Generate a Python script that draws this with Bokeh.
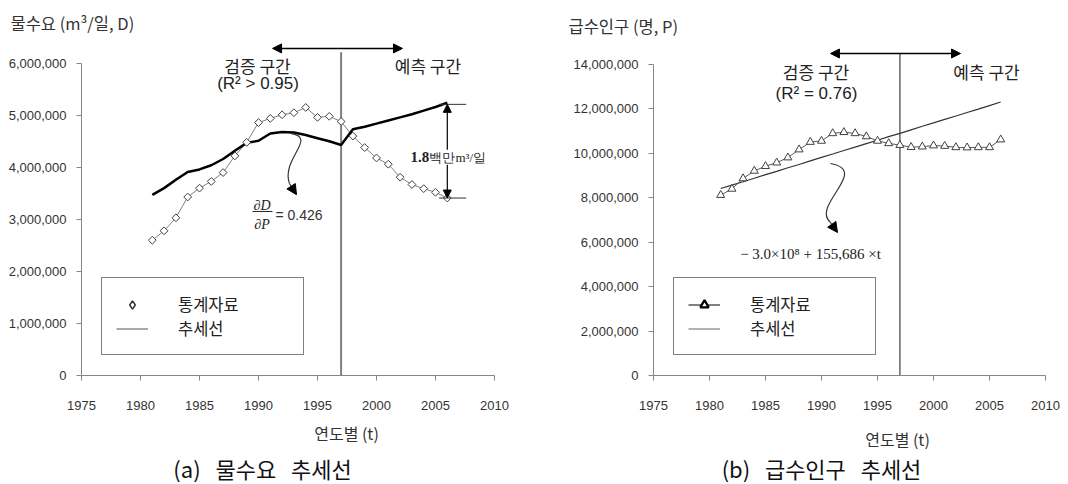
import numpy as np
from bokeh.plotting import figure
from bokeh.layouts import row, column
from bokeh.models import (Label, Arrow, NormalHead, Legend, LegendItem,
                          FixedTicker, NumeralTickFormatter)
from bokeh.embed import file_html
from bokeh.resources import INLINE

# ---------------- data ----------------
years = list(range(1981, 2007))

demand_stats = [2600000, 2780000, 3030000, 3430000, 3600000, 3730000, 3900000,
                4220000, 4480000, 4860000, 4940000, 5010000, 5050000, 5150000,
                4960000, 4980000, 4880000, 4600000, 4380000, 4180000, 4060000,
                3810000, 3670000, 3590000, 3520000, 3410000]
demand_trend = [3470000, 3600000, 3760000, 3910000, 3960000, 4040000, 4160000,
                4320000, 4470000, 4510000, 4650000, 4680000, 4670000, 4620000,
                4560000, 4500000, 4430000, 4730000, 4780000, 4840000, 4900000,
                4960000, 5020000, 5090000, 5160000, 5240000]

pop_stats = [8120000, 8400000, 8870000, 9210000, 9420000, 9580000, 9810000,
             10170000, 10510000, 10560000, 10900000, 10950000, 10900000, 10760000,
             10560000, 10450000, 10370000, 10280000, 10300000, 10350000, 10330000,
             10270000, 10260000, 10270000, 10270000, 10620000]
pop_trend = [8420000, 8570000, 8720000, 8880000, 9040000, 9190000, 9350000,
             9500000, 9660000, 9820000, 9970000, 10130000, 10280000, 10440000,
             10590000, 10750000, 10900000, 11060000, 11220000, 11370000, 11530000,
             11680000, 11840000, 11990000, 12150000, 12310000]

x_ticks = [1975, 1980, 1985, 1990, 1995, 2000, 2005, 2010]
demand_ticks = [0, 1000000, 2000000, 3000000, 4000000, 5000000, 6000000]
pop_ticks = [0, 2000000, 4000000, 6000000, 8000000, 10000000, 12000000, 14000000]
split_year = 1997

KR = "Noto Sans CJK KR"
SANS = "Liberation Sans"
SERIF = "Liberation Serif"
GAP = "\u00a0\u00a0\u00a0"


def style(p, yticks):
    p.xgrid.visible = False
    p.ygrid.visible = False
    p.outline_line_color = None
    p.background_fill_color = "white"
    p.border_fill_color = "white"
    for ax in (p.xaxis[0], p.yaxis[0]):
        ax.axis_line_color = "#868686"
        ax.axis_line_width = 1
        ax.major_tick_line_color = "#868686"
        ax.major_tick_out = 5
        ax.major_tick_in = 0
        ax.minor_tick_line_color = None
        ax.major_label_text_font = SANS
        ax.major_label_text_font_size = "13px"
        ax.major_label_text_color = "#333333"
    p.xaxis.ticker = FixedTicker(ticks=x_ticks)
    p.yaxis.ticker = FixedTicker(ticks=yticks)
    p.yaxis.formatter = NumeralTickFormatter(format="0,0")
    p.xaxis.bounds = (x_ticks[0], x_ticks[-1])
    p.yaxis.bounds = (yticks[0], yticks[-1])
    p.yaxis.major_label_standoff = 10
    p.xaxis.major_label_standoff = 20


def lab(p, x, y, text, size, font=KR, align="center", baseline="middle",
        fstyle="normal", color="#222222", bg=None):
    p.add_layout(Label(x=x, y=y, text=text,
                       text_font=font, text_font_size=size, text_align=align,
                       text_baseline=baseline, text_font_style=fstyle,
                       text_color=color, background_fill_color=bg))


def make_legend(items):
    return Legend(items=items, location=(20, 20), margin=0, padding=14,
                  spacing=0, label_standoff=30, glyph_width=32, glyph_height=21,
                  label_height=21, label_width=111,
                  border_line_color="black", border_line_width=1.5,
                  background_fill_color="white", background_fill_alpha=1,
                  label_text_font=KR, label_text_font_size="16.5px",
                  label_text_color="#222222")


def strip(height, top):
    # plain text band; its coordinates are page pixels
    s = figure(width=1068, height=height, x_range=(0, 1068), y_range=(top + height, top),
               output_backend="svg", toolbar_location=None, title=None,
               x_axis_type=None, y_axis_type=None, min_border=0)
    s.outline_line_color = None
    s.background_fill_color = "white"
    s.border_fill_color = "white"
    return s


# ---------------- (a) water demand ----------------
p1 = figure(width=540, height=380, x_range=(1975, 2010), y_range=(0, 6437000),
            output_backend="svg", toolbar_location=None, title=None,
            min_border_left=81, min_border_right=46, min_border_top=0,
            min_border_bottom=41)
style(p1, demand_ticks)

p1.segment(x0=[split_year], y0=[0], x1=[split_year], y1=[6209000],
           line_color="#7f7f7f", line_width=2)
p1.line(years, demand_stats, line_color="#808080", line_width=1)
p1.line(years, demand_trend, line_color="black", line_width=2.5)
p1.scatter(years, demand_stats, marker="square", angle=np.pi / 4, size=5.5,
           fill_color="white", line_color="#404040", line_width=1)
# legend-only renderers (hidden in the plot area)
r1m = p1.scatter(years, demand_stats, marker="diamond", size=9,
                 fill_color="white", line_color="#333333", line_width=1.5, visible=False)
r1t = p1.line(years, demand_trend, line_color="#555555", line_width=1.2, visible=False)

p1.add_layout(Arrow(start=NormalHead(size=9, line_width=1), end=NormalHead(size=9, line_width=1),
                    x_start=1991.19, y_start=6285000, x_end=2002.2, y_end=6285000,
                    line_width=1.5, line_color="black"))
lab(p1, 1989.92, 5962000, "검증 구간", "17px")
lab(p1, 1989.96, 5620000, "(R² > 0.95)", "17px", font=SANS)
lab(p1, 2004.36, 5962000, "예측 구간", "17px")

# curved arrow and elasticity
p1.bezier(x0=[1992.71], y0=[4652000], x1=[1992.63], y1=[3684000],
          cx0=[1995.08], cy0=[4576000], cx1=[1991.86], cy1=[4158000],
          line_color="#333333", line_width=1.2)
p1.add_layout(Arrow(start=None, end=NormalHead(size=10, line_width=1),
                    x_start=1992.63, y_start=3684000, x_end=1993.22, y_end=3475000,
                    line_width=1.2, line_color="#333333"))
lab(p1, 1990.30, 3266000, "∂D", "14px", font=SERIF, fstyle="italic")
p1.segment(x0=[1989.49], y0=[3152000], x1=[1991.19], y1=[3152000],
           line_color="#222222", line_width=1)
lab(p1, 1990.30, 2905000, "∂P", "14px", font=SERIF, fstyle="italic")
lab(p1, 1991.44, 3076000, "= 0.426", "14px", font=SANS, align="left", color="#333333")

# 1.8 million annotation
p1.segment(x0=[2005.3, 2005.3], y0=[5210000, 3410000], x1=[2007.6, 2007.6],
           y1=[5210000, 3410000], line_color="#333333", line_width=1)
p1.add_layout(Arrow(start=NormalHead(size=8, line_width=1), end=NormalHead(size=8, line_width=1),
                    x_start=2006.0, y_start=5210000, x_end=2006.0, y_end=3410000,
                    line_width=1.2, line_color="black"))
lab(p1, 2002.88, 4196000, "1.8", "15px", font=SERIF, align="left", fstyle="bold", bg="white")
lab(p1, 2004.49, 4196000, "백만m³/일", "13px", font=SERIF, align="left", bg="white")

p1.add_layout(make_legend([LegendItem(label="통계자료", renderers=[r1m]),
                           LegendItem(label="추세선", renderers=[r1t])]))

# ---------------- (b) served population ----------------
p2 = figure(width=528, height=380, x_range=(1975, 2010), y_range=(0, 15080000),
            output_backend="svg", toolbar_location=None, title=None,
            min_border_left=113, min_border_right=23, min_border_top=0,
            min_border_bottom=45)
style(p2, pop_ticks)

p2.segment(x0=[split_year], y0=[0], x1=[split_year], y1=[14495000],
           line_color="#7f7f7f", line_width=1.8)
p2.line(years, pop_trend, line_color="#333333", line_width=1.2)
p2.line(years, pop_stats, line_color="#595959", line_width=1)
p2.scatter(years, pop_stats, marker="triangle", size=8, fill_color="white",
           line_color="#404040", line_width=1)
# legend-only renderers (hidden in the plot area)
r2l = p2.line(years, pop_stats, line_color="#555555", line_width=1.5, visible=False)
r2m = p2.scatter(years, pop_stats, marker="triangle", size=8, fill_color="white",
                 line_color="black", line_width=2.2, visible=False)
r2t = p2.line(years, pop_trend, line_color="#666666", line_width=1.2, visible=False)

p2.add_layout(Arrow(start=NormalHead(size=9, line_width=1), end=NormalHead(size=9, line_width=1),
                    x_start=1990.80, y_start=14495000, x_end=2002.41, y_end=14495000,
                    line_width=1.5, line_color="black"))
lab(p2, 1989.51, 13685000, "검증 구간", "17px")
lab(p2, 1989.55, 12695000, "(R² = 0.76)", "17px", font=SANS)
lab(p2, 2004.73, 13685000, "예측 구간", "17px")

p2.bezier(x0=[1990.80], y0=[9544000], x1=[1990.80], y1=[6888000],
          cx0=[1994.38], cy0=[9228000], cx1=[1989.02], cy1=[7653000],
          line_color="#333333", line_width=1.2)
p2.add_layout(Arrow(start=None, end=NormalHead(size=10, line_width=1),
                    x_start=1990.80, y_start=6888000, x_end=1991.43, y_end=6437000,
                    line_width=1.2, line_color="#333333"))
lab(p2, 1989.02, 5447000, "− 3.0×10⁸ + 155,686 ×t", "15px", font=SERIF)

p2.add_layout(make_legend([LegendItem(label="통계자료", renderers=[r2l, r2m]),
                           LegendItem(label="추세선", renderers=[r2t])]))

# ---------------- text bands (titles, axis names, captions) ----------------
top = strip(40, 0)
lab(top, 10, 22, "물수요 (m³/일, D)", "16.5px", align="left", color="#333333")
lab(top, 568, 25, "급수인구 (명, P)", "16.5px", align="left", color="#333333")

bottom = strip(64, 420)
lab(bottom, 346, 432, "연도별 (t)", "16px", color="#333333")
lab(bottom, 897, 438, "연도별 (t)", "16px", color="#333333")
lab(bottom, 262, 467, "(a)" + GAP + "물수요" + GAP + "추세선", "22px", color="#111111")
lab(bottom, 821, 467, "(b)" + GAP + "급수인구" + GAP + "추세선", "22px", color="#111111")

layout = column(top, row(p1, p2), bottom)
open("out.html", "w").write(file_html(layout, INLINE, title="chart"))
